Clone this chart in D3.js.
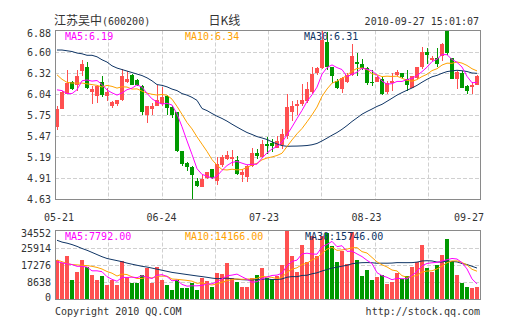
<!DOCTYPE html>
<html>
<head>
<meta charset="utf-8">
<script src="https://cdn.jsdelivr.net/npm/d3@7"></script>
<style>
  html, body { margin: 0; padding: 0; background: #fff; }
  svg { display: block; }
</style>
</head>
<body>
<svg id="chart" width="505" height="330"></svg>
<script>
// Daily candles, 2010-05-21 .. 2010-09-27
const open = [5.60,5.84,6.04,6.20,6.16,6.34,6.40,6.06,6.01,6.19, 6.01,5.87,5.90,5.96,6.20,6.29,6.22,6.14,5.76,5.83,
  5.87,5.90,6.01,5.86,5.79,5.28,5.12,5.06,4.87,4.80, 4.91,5.03,4.88,5.09,5.17,5.17,5.15,4.95,4.93,5.08,
  5.25,5.19,5.37,5.38,5.32,5.35,5.48,5.80,5.87,5.90, 5.94,6.06,6.32,6.38,6.73,6.39,6.21,6.10,6.20,6.29,
  6.46,6.43,6.38,6.19,6.20,6.24,6.06,6.18,6.29,6.31, 6.24,6.12,6.25,6.39,6.60,6.49,6.51,6.54,6.87,6.51,
  6.23,6.32,6.14,6.13,6.16];
const high = [5.88,6.07,6.36,6.21,6.36,6.49,6.46,6.14,6.16,6.27, 6.12,5.94,5.96,6.37,6.34,6.30,6.23,6.16,5.88,5.91,
  6.16,6.13,6.02,5.87,5.80,5.28,5.13,5.08,4.91,4.96, 5.00,5.04,5.19,5.22,5.28,5.29,5.21,5.04,5.09,5.31,
  5.30,5.42,5.46,5.43,5.48,5.57,6.04,5.94,5.96,6.17, 6.19,6.40,6.40,6.88,6.86,6.40,6.24,6.26,6.32,6.70,
  6.58,6.50,6.39,6.36,6.27,6.26,6.21,6.32,6.35,6.32, 6.36,6.28,6.40,6.66,6.65,6.54,6.65,6.72,6.88,6.51,
  6.34,6.34,6.16,6.20,6.29];
const low = [5.56,5.83,6.03,6.09,6.07,6.27,6.10,5.90,5.92,6.00, 5.94,5.85,5.87,5.94,6.18,6.15,6.14,5.75,5.65,5.76,
  5.87,5.88,5.75,5.72,5.26,5.08,5.01,4.64,4.79,4.79, 4.90,4.90,4.82,5.06,5.15,5.08,4.96,4.86,4.86,5.06,
  5.17,5.18,5.23,5.26,5.31,5.30,5.43,5.68,5.76,5.88, 5.92,6.04,6.29,6.37,6.36,6.18,6.10,6.05,6.18,6.27,
  6.27,6.36,6.16,6.14,6.19,6.02,6.04,6.07,6.28,6.25, 6.07,6.11,6.24,6.37,6.43,6.48,6.40,6.47,6.56,6.23,
  6.10,6.11,6.03,6.03,6.15];
const close = [5.84,6.06,6.18,6.10,6.28,6.43,6.12,6.10,6.14,6.02, 6.06,5.93,5.95,6.28,6.24,6.16,6.15,5.80,5.87,5.87,
  5.96,6.00,5.85,5.76,5.28,5.10,5.06,4.95,4.81,4.90, 4.99,4.91,5.10,5.19,5.22,5.20,4.97,4.99,5.08,5.25,
  5.21,5.37,5.34,5.34,5.41,5.50,5.86,5.87,5.90,5.95, 6.10,6.30,6.38,6.76,6.39,6.28,6.12,6.25,6.29,6.54,
  6.43,6.38,6.18,6.18,6.26,6.03,6.18,6.21,6.33,6.26, 6.15,6.27,6.39,6.59,6.56,6.52,6.43,6.70,6.58,6.24,
  6.33,6.12,6.08,6.15,6.27];
const volume = [19830,18040,21610,9640,13930,19830,16250,12150,9640,11780, 7320,9640,7320,19460,11430,8210,8210,12150,15720,8210,
  16250,10000,7320,5000,10000,5540,5540,8210,5000,10890, 9110,6070,13040,12690,18390,10890,8570,6430,6430,10890,
  12320,15720,10890,10360,11790,17150,34120,21970,13580,27340, 18940,31980,21620,31980,33230,26780,18640,24060,17730,34020,
  19730,11940,14650,9760,11030,12300,7780,8690,13200,10120, 11940,16460,18640,27320,15930,13700,17300,22150,30450,19100,
  12300,8200,6400,5600,6460];

// Averages for the first sessions, whose windows start before 05-21
const ma5Head  = [6.09,6.08,6.04,6.04];
const ma10Head = [6.29,6.23,6.19,6.18,6.18,6.18,6.17,6.16,6.15];
const ma30Head = [6.62,6.62,6.61,6.60,6.58,6.57,6.55,6.55,6.53,6.49,6.46,6.41,6.38,6.36,6.34,6.32,6.30,6.28,6.25,6.21,
  6.16,6.15,6.13,6.10,6.08,6.04,6.02,5.99,5.95];
const vma5Head  = [18930,18390,17860,17500];
const vma10Head = [19820,18930,18040,17500,17320,17150,16970,16610,16070];
const vma30Head = [29650,28750,28220,27500,26610,25540,24650,23580,22500,21430,20540,20000,19470,18930,18220,17680,
  17150,16610,16250,15720,15180,14650,14110,13570,13220,12860,12500,12150,11790];

const priceTicks  = ["6.88","6.60","6.32","6.04","5.75","5.47","5.19","4.91","4.63"];
const volumeTicks = ["34552","25914","17276","8638","0"];
const dateLabels  = ["05-21","06-24","07-23","08-23","09-27"];
const stockName = "江苏吴中", stockCode = "(600200)", chartTitle = "日K线";
const timestamp = "2010-09-27 15:01:07";
const footerLeft = "Copyright 2010 QQ.COM", footerRight = "http://stock.qq.com";

const MONO = "'DejaVu Sans Mono', 'Liberation Mono', monospace";
const CJK = "'Noto Sans CJK SC', sans-serif";
const UP = "#ff5050", DOWN = "#009900";
const C5 = "#ff00ff", C10 = "#ffa200", C30 = "#0f3565";
const TEXT = "#333";

function movingAverage(values, n, head) {
  return values.map((v, i) => i < n - 1 ? head[i] : d3.mean(values.slice(i - n + 1, i + 1)));
}

const svg = d3.select("#chart");
const L = 55, R = 480;
const N = close.length;
const x = d3.scaleBand().domain(d3.range(N)).range([L, R]).paddingInner(0.2).paddingOuter(0.1).align(0);
const bw = x.bandwidth();
const cx = i => x(i) + bw / 2;
const cols = d3.scaleLinear().domain([0, 8]).range([L, R + 1]);

// ---------- price panel ----------
const pTop = 30.5, pBot = 199.5;
const y = d3.scaleLinear().domain([+priceTicks[priceTicks.length - 1], +priceTicks[0]]).range([pBot, pTop]);

const grid = svg.append("g").attr("stroke", "#d0d0d0").attr("stroke-dasharray", "4,2").attr("stroke-width", 1);
priceTicks.slice(1, -1).forEach(t => {
  const yy = Math.round(y(+t)) + 0.5;
  grid.append("line").attr("x1", L).attr("x2", R + 1).attr("y1", yy).attr("y2", yy);
});
d3.range(1, 8).forEach(k => {
  const xx = Math.round(cols(k)) + 0.5;
  grid.append("line").attr("x1", xx).attr("x2", xx).attr("y1", pTop).attr("y2", pBot);
});

const candles = svg.append("g").attr("shape-rendering", "crispEdges");
d3.range(N).forEach(i => {
  const col = close[i] >= open[i] ? UP : DOWN;
  const yh = Math.round(y(high[i])), yl = Math.round(y(low[i]));
  candles.append("rect").attr("x", x(i) + 2).attr("y", yh).attr("width", 1).attr("height", Math.max(1, yl - yh)).attr("fill", col);
  const yo = Math.round(y(open[i])), yc = Math.round(y(close[i]));
  candles.append("rect").attr("x", x(i)).attr("y", Math.min(yo, yc)).attr("width", bw)
    .attr("height", Math.max(1, Math.abs(yo - yc))).attr("fill", col);
});

svg.append("clipPath").attr("id", "pclip").append("rect").attr("x", L).attr("y", pTop).attr("width", R - L + 1).attr("height", pBot - pTop);
const ma5 = movingAverage(close, 5, ma5Head);
const ma10 = movingAverage(close, 10, ma10Head);
const ma30 = movingAverage(close, 30, ma30Head);
const pline = d3.line().x((d, i) => cx(i)).y(d => y(d));
[[ma30, C30], [ma10, C10], [ma5, C5]].forEach(([s, c]) => {
  svg.append("path").attr("d", pline(s)).attr("fill", "none").attr("stroke", c).attr("stroke-width", 1).attr("clip-path", "url(#pclip)");
});

svg.append("rect").attr("x", L + 0.5).attr("y", pTop).attr("width", R - L).attr("height", pBot - pTop)
  .attr("fill", "none").attr("stroke", "#8a8a8a").attr("stroke-width", 1);

const yAxis = svg.append("g").attr("font-family", MONO).attr("font-size", 10).attr("fill", TEXT).attr("text-anchor", "end");
priceTicks.forEach(t => {
  const c = Math.min(Math.max(y(+t), pTop + 2), pBot - 1);
  yAxis.append("text").attr("x", 51).attr("y", c + 4).text(t);
});

const leg = svg.append("g").attr("font-family", MONO).attr("font-size", 10);
leg.append("text").attr("x", 65).attr("y", 40).attr("fill", C5).text("MA5:" + ma5[N - 1].toFixed(2));
leg.append("text").attr("x", 185).attr("y", 40).attr("fill", C10).text("MA10:" + ma10[N - 1].toFixed(2));
leg.append("text").attr("x", 304).attr("y", 40).attr("fill", C30).text("MA30:" + ma30[N - 1].toFixed(2));

// ---------- date labels ----------
const xd = d3.scalePoint().domain(dateLabels).range([59, 469]);
svg.append("g").attr("font-family", MONO).attr("font-size", 10).attr("fill", TEXT).attr("text-anchor", "middle")
  .selectAll("text").data(dateLabels).join("text").attr("x", d => xd(d)).attr("y", 221).text(d => d);

// ---------- volume panel ----------
const vTop = 230.5, vBot = 299.5;
const vy = d3.scaleLinear().domain([0, +volumeTicks[0]]).range([vBot, vTop]);

const vgrid = svg.append("g").attr("stroke", "#d0d0d0").attr("stroke-dasharray", "4,2").attr("stroke-width", 1);
volumeTicks.slice(1, -1).forEach(t => {
  const yy = Math.round(vy(+t)) + 0.5;
  vgrid.append("line").attr("x1", L).attr("x2", R + 1).attr("y1", yy).attr("y2", yy);
});
d3.range(1, 8).forEach(k => {
  const xx = Math.round(cols(k)) + 0.5;
  vgrid.append("line").attr("x1", xx).attr("x2", xx).attr("y1", vTop).attr("y2", vBot);
});

svg.append("g").attr("shape-rendering", "crispEdges").selectAll("rect").data(volume).join("rect")
  .attr("x", (d, i) => x(i)).attr("width", bw)
  .attr("y", d => Math.round(vy(d))).attr("height", d => vBot - Math.round(vy(d)))
  .attr("fill", (d, i) => close[i] >= open[i] ? UP : DOWN);

const vma5 = movingAverage(volume, 5, vma5Head);
const vma10 = movingAverage(volume, 10, vma10Head);
const vma30 = movingAverage(volume, 30, vma30Head);
const vline = d3.line().x((d, i) => cx(i)).y(d => vy(d));
[[vma30, C30], [vma10, C10], [vma5, C5]].forEach(([s, c]) => {
  svg.append("path").attr("d", vline(s)).attr("fill", "none").attr("stroke", c).attr("stroke-width", 1);
});

svg.append("rect").attr("x", L + 0.5).attr("y", vTop).attr("width", R - L).attr("height", vBot - vTop)
  .attr("fill", "none").attr("stroke", "#8a8a8a").attr("stroke-width", 1);

const vAxis = svg.append("g").attr("font-family", MONO).attr("font-size", 10).attr("fill", TEXT).attr("text-anchor", "end");
volumeTicks.forEach(t => {
  const c = Math.min(Math.max(vy(+t), vTop + 2.5), vBot - 3);
  vAxis.append("text").attr("x", 51).attr("y", c + 4).text(t);
});

const vleg = svg.append("g").attr("font-family", MONO).attr("font-size", 10);
vleg.append("text").attr("x", 65).attr("y", 240).attr("fill", C5).text("MA5:" + vma5[N - 1].toFixed(2));
vleg.append("text").attr("x", 185).attr("y", 240).attr("fill", C10).text("MA10:" + vma10[N - 1].toFixed(2));
vleg.append("text").attr("x", 305).attr("y", 240).attr("fill", C30).text("MA30:" + vma30[N - 1].toFixed(2));

// ---------- header & footer ----------
const title = svg.append("text").attr("x", 54).attr("y", 25).attr("fill", TEXT);
title.append("tspan").attr("font-family", CJK).attr("font-size", 12).text(stockName);
title.append("tspan").attr("font-family", MONO).attr("font-size", 10).text(stockCode);
svg.append("text").attr("x", 224.5).attr("y", 25).attr("text-anchor", "middle").attr("font-family", CJK)
  .attr("font-size", 12).attr("fill", TEXT).text(chartTitle);
svg.append("text").attr("x", 479).attr("y", 25).attr("text-anchor", "end").attr("font-family", MONO)
  .attr("font-size", 10).attr("fill", TEXT).text(timestamp);

svg.append("text").attr("x", 55).attr("y", 315).attr("font-family", MONO).attr("font-size", 10).attr("fill", TEXT).text(footerLeft);
svg.append("text").attr("x", 480).attr("y", 315).attr("text-anchor", "end").attr("font-family", MONO).attr("font-size", 10)
  .attr("fill", TEXT).text(footerRight);
</script>
</body>
</html>
